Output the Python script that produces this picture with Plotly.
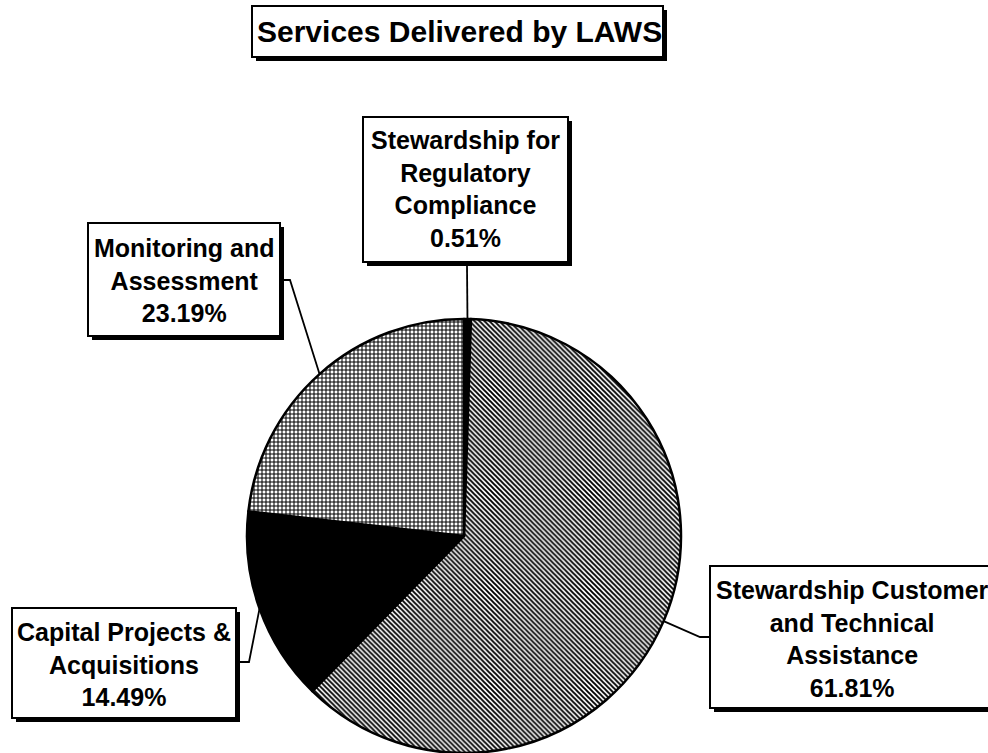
import math
import plotly.graph_objects as go

# ---- data ----
categories = [
    "Stewardship for Regulatory Compliance",
    "Stewardship Customer and Technical Assistance",
    "Capital Projects & Acquisitions",
    "Monitoring and Assessment",
]
label_lines = [
    "Stewardship for<br>Regulatory<br>Compliance",
    "Stewardship Customer<br>and Technical<br>Assistance",
    "Capital Projects &<br>Acquisitions",
    "Monitoring and<br>Assessment",
]
values = [0.51, 61.81, 14.49, 23.19]
title_text = "Services Delivered by LAWS"

# ---- layout constants (pixels) ----
W, H = 988, 753
CX, CY, R = 464, 536, 217
FONT = "Liberation Sans, Arial, Helvetica, sans-serif"

def px(x):
    return x / W

def py(y):
    return 1 - y / H

# label boxes: (x0, y0, x1, y1), text centre, leader start points
boxes = [
    ((363, 117, 568, 262), (465.5, 189), [(467, 266)]),
    ((710, 566, 994, 708), (852, 638.5), [(710, 637), (700, 637)]),
    ((12, 608, 236, 718), (123.5, 664), [(240, 662), (249, 662)]),
    ((88, 223, 280, 336), (184, 280), [(283, 280), (290, 280)]),
]

fig = go.Figure()
fig.add_trace(go.Pie(
    labels=categories,
    values=values,
    sort=False,
    direction="clockwise",
    rotation=0,
    textinfo="none",
    hoverinfo="label+percent",
    showlegend=False,
    domain=dict(x=[px(CX - R), px(CX + R)], y=[py(CY + R), py(CY - R)]),
    marker=dict(
        colors=["black", "white", "black", "white"],
        line=dict(color="black", width=2.5),
        pattern=dict(
            shape=["", "\\", "", "+"],
            fgcolor=["black", "black", "black", "black"],
            bgcolor=["black", "white", "black", "white"],
            size=[4, 3.5, 4, 4],
            solidity=[0.5, 0.55, 0.5, 0.45],
        ),
    ),
))

shapes = []
annotations = []

def add_box(x0, y0, x1, y1):
    shapes.append(dict(type="rect", xref="paper", yref="paper",
                       x0=px(x0 + 4), x1=px(x1 + 4), y0=py(y1 + 4), y1=py(y0 + 4),
                       fillcolor="black", line=dict(width=0)))
    shapes.append(dict(type="rect", xref="paper", yref="paper",
                       x0=px(x0), x1=px(x1), y0=py(y1), y1=py(y0),
                       fillcolor="white", line=dict(color="black", width=2)))

# title
add_box(252, 6, 663, 57)
annotations.append(dict(xref="paper", yref="paper", x=px(459), y=py(32),
                        text="<b>" + title_text + "</b>", showarrow=False,
                        xanchor="center", yanchor="middle",
                        font=dict(family=FONT, size=30, color="black")))

total = sum(values)
cum = 0.0
for i, v in enumerate(values):
    mid = (cum + v / 2) / total * 2 * math.pi
    cum += v
    ex = CX + R * math.sin(mid)
    ey = CY - R * math.cos(mid)
    (x0, y0, x1, y1), (tx, ty), starts = boxes[i]
    add_box(x0, y0, x1, y1)
    pts = starts + [(ex, ey)]
    path = "M " + " L ".join(f"{px(a):.5f},{py(b):.5f}" for a, b in pts)
    shapes.append(dict(type="path", xref="paper", yref="paper", path=path,
                       line=dict(color="black", width=1.8)))
    annotations.append(dict(xref="paper", yref="paper", x=px(tx), y=py(ty),
                            text="<b>" + label_lines[i] + f"<br>{v:.2f}%</b>",
                            showarrow=False, xanchor="center", yanchor="middle",
                            align="center",
                            font=dict(family=FONT, size=25, color="black")))

fig.update_layout(
    width=W, height=H,
    margin=dict(l=0, r=0, t=0, b=0),
    paper_bgcolor="white",
    plot_bgcolor="white",
    shapes=shapes,
    annotations=annotations,
)

fig.write_html("out.html")
